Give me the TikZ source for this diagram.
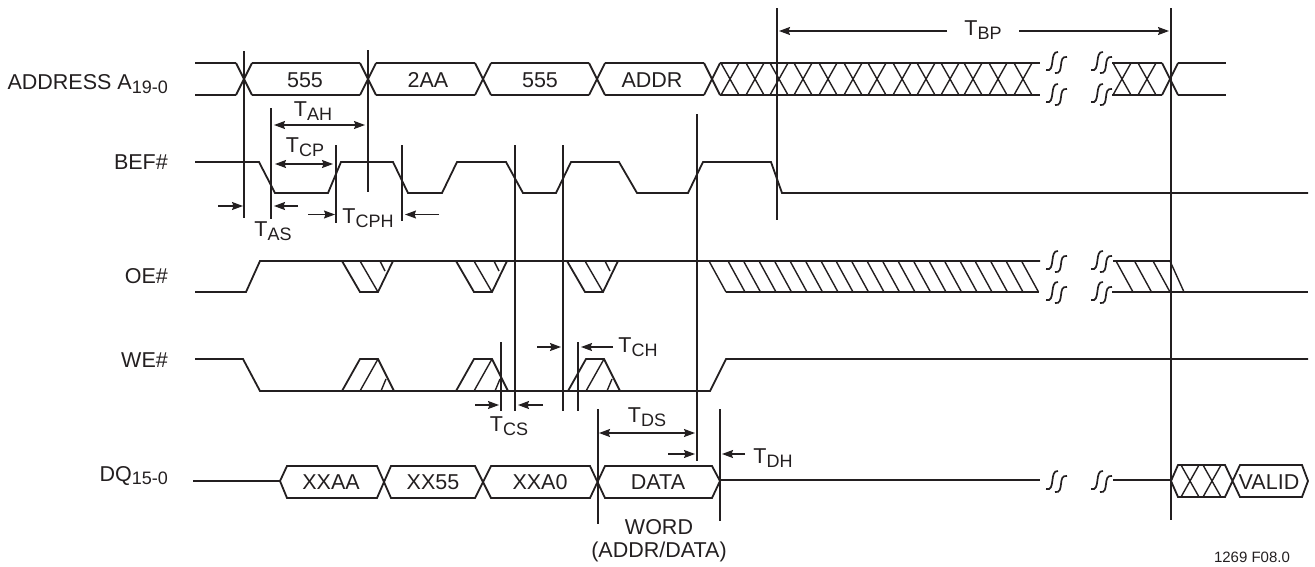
\documentclass[tikz,border=0pt]{standalone}
\usepackage{fontspec}
\setmainfont{Liberation Sans}
\usetikzlibrary{arrows.meta}
\definecolor{ink}{HTML}{231F20}
\newcommand{\lowtxt}[1]{\raisebox{-3.5pt}{\fontsize{18}{18}\selectfont #1}}
\tikzset{
    sig/.style = {ink, line width = 1.8},
    hatch/.style = {ink, line width = 1.4},
    mark line/.style = {ink, line width = 1.6},
    dim/.style = {ink, line width = 1.3, -{Stealth[length = 11, width = 8, inset = 1.5]}},
    dimboth/.style = {ink, line width = 1.3, {Stealth[length = 11, width = 8, inset = 1.5]}-{Stealth[length = 11, width = 8, inset = 1.5]}},
    lbl/.style = {ink, font = \fontsize{21.5}{24}\selectfont, inner sep = 0},
    brk/.pic = {
        \draw [ink, line width = 1.7] (-11, 8) .. controls (-1, 11) and (-8, -11) .. (1, -10);
        \draw [ink, line width = 1.7] (-2, 11) .. controls (8, 13) and (0, -7) .. (10, -5);
    }
}

\begin{document}
\begin{tikzpicture}[x = 1pt, y = -1pt]
    \useasboundingbox (0, 0) rectangle (1315, 566);

    \foreach \a/\b in {195/236, 252/360, 376/475, 491/589, 605/704, 720/1040, 1112/1162, 1178/1226} {
        \draw [sig] (\a, 63) -- (\b, 63);
        \draw [sig] (\a, 95) -- (\b, 95);
    }
    \foreach \x in {244, 368, 483, 597, 712} {
        \draw [sig] (\x - 8, 63) -- (\x + 8, 95);
        \draw [sig] (\x - 8, 95) -- (\x + 8, 63);
    }
    \foreach \x in {730, 755, 779, 803, 828, 853, 877, 902, 926, 950, 973, 998, 1023, 1122, 1147} {
        \draw [hatch] (\x - 9, 63) -- (\x + 9, 95);
        \draw [hatch] (\x - 9, 95) -- (\x + 9, 63);
    }
    \draw [sig] (1162, 63) -- (1178, 95);
    \draw [sig] (1162, 95) -- (1178, 63);

    \draw [sig] (195, 162) -- (259, 162) -- (275, 193) -- (328, 193) -- (341, 162) -- (393, 162)
        -- (408, 193) -- (442, 193) -- (457, 162) -- (506, 162) -- (523, 193) -- (556, 193)
        -- (571, 162) -- (619, 162) -- (637, 193) -- (688, 193) -- (703, 162) -- (771, 162)
        -- (782, 193) -- (1308, 193);

    \draw [sig] (195, 292) -- (246, 292) -- (260, 261) -- (1040, 261);
    \draw [sig] (726, 292) -- (1039, 292);
    \draw [sig] (1113, 261) -- (1170, 261);
    \draw [sig] (1112, 292) -- (1308, 292);
    \foreach \a in {342, 456, 567} {
        \draw [sig] (\a, 261) -- (\a + 18, 292) -- (\a + 36, 292) -- (\a + 51, 261);
        \draw [hatch] (\a + 18, 261) -- (\a + 36, 292);
        \draw [hatch] (\a + 38, 261) -- (\a + 43, 271);
    }
    \foreach \a in {709, 728, 743.5, 759, 774.5, 790, 805.5, 821, 836, 851.5, 867, 882.5, 898, 913.5, 929, 944.5, 960, 975, 990.5, 1006, 1021.5, 1116, 1134.5, 1153} {
        \draw [hatch] (\a, 261) -- (\a + 17, 292);
    }
    \draw [hatch] (1170, 261) -- (1184, 292);

    \draw [sig] (195, 359) -- (243, 359) -- (260, 391) -- (710, 391) -- (726, 359) -- (1308, 359);
    \foreach \a in {342, 456, 568} {
        \draw [sig] (\a, 391) -- (\a + 18, 359) -- (\a + 36, 359) -- (\a + 52, 391);
        \draw [hatch] (\a + 18, 391) -- (\a + 36, 359);
        \draw [hatch] (\a + 39, 391) -- (\a + 44, 379);
    }

    \draw [sig] (193, 481) -- (280, 481) -- (287, 466) -- (377, 466) -- (391, 498) -- (475, 498)
        -- (491, 466) -- (590, 466) -- (605, 498) -- (712, 498) -- (720, 481) -- (712, 466)
        -- (605, 466) -- (590, 498) -- (491, 498) -- (475, 466) -- (391, 466) -- (377, 498)
        -- (287, 498) -- (280, 481);
    \draw [sig] (720, 480) -- (1040, 480);
    \draw [sig] (1113, 480) -- (1171, 480);
    \draw [sig] (1171, 481) -- (1178, 465) -- (1225, 465) -- (1240, 497) -- (1302, 497) -- (1308, 481)
        -- (1302, 465) -- (1240, 465) -- (1225, 497) -- (1178, 497) -- cycle;
    \foreach \x in {1190, 1212} {
        \draw [hatch] (\x - 9, 465) -- (\x + 9, 497);
        \draw [hatch] (\x - 9, 497) -- (\x + 9, 465);
    }

    \foreach \x in {1057, 1102} {
        \foreach \y in {62, 94, 261, 292} {
            \pic at (\x, \y) {brk};
        }
        \pic at (\x, 481) {brk};
    }

    \draw [mark line] (244, 51) -- (244, 218);
    \draw [mark line] (271, 108) -- (271, 219);
    \draw [mark line] (336, 145) -- (336, 223);
    \draw [mark line] (368, 50) -- (368, 192);
    \draw [mark line] (402, 145) -- (402, 221);
    \draw [mark line] (515, 145) -- (515, 411);
    \draw [mark line] (563, 145) -- (563, 411);
    \draw [mark line] (697, 114) -- (697, 461);
    \draw [mark line] (777, 8) -- (777, 220);
    \draw [mark line] (1171, 8) -- (1171, 520);
    \draw [mark line] (501, 342) -- (501, 411);
    \draw [mark line] (578, 342) -- (578, 411);
    \draw [mark line] (598, 409) -- (598, 524);
    \draw [mark line] (720, 409) -- (720, 521);

    \draw [dimboth] (274, 125) -- (365, 125);
    \draw [dimboth] (275, 164) -- (333, 164);
    \draw [dim] (218, 206) -- (243, 206);
    \draw [dim] (298, 206) -- (274, 206);
    \draw [dim] (308, 214.5) -- (335, 214.5);
    \draw [dim] (439, 214.5) -- (405, 214.5);
    \draw [dim] (947, 31) -- (779, 31);
    \draw [dim] (1019, 31) -- (1169, 31);
    \draw [dim] (475, 405) -- (499, 405);
    \draw [dim] (543, 405) -- (518, 405);
    \draw [dim] (537, 347) -- (561, 347);
    \draw [dim] (613, 347) -- (581, 347);
    \draw [dimboth] (599, 433) -- (695, 433);
    \draw [dim] (668, 454) -- (695, 454);
    \draw [dim] (745, 454) -- (722, 454);

    \node [lbl] (tah) at (313, 111) {T\lowtxt{AH}};
    \node [lbl] (tcp) at (305, 147) {T\lowtxt{CP}};
    \node [lbl] (tas) at (273, 231) {T\lowtxt{AS}};
    \node [lbl] (tcph) at (368, 218) {T\lowtxt{CPH}};
    \node [lbl] (tbp) at (983, 30) {T\lowtxt{BP}};
    \node [lbl] (tcs) at (509, 426) {T\lowtxt{CS}};
    \node [lbl] (tch) at (638, 347) {T\lowtxt{CH}};
    \node [lbl] (tds) at (647, 417) {T\lowtxt{DS}};
    \node [lbl] (tdh) at (773, 458) {T\lowtxt{DH}};

    \node [lbl] (a1) at (305, 80) {555};
    \node [lbl] (a2) at (428, 80) {2AA};
    \node [lbl] (a3) at (540, 80) {555};
    \node [lbl] (a4) at (652, 80) {ADDR};
    \node [lbl] (d1) at (331, 482.5) {XXAA};
    \node [lbl] (d2) at (433, 482.5) {XX55};
    \node [lbl] (d3) at (540, 482.5) {XXA0};
    \node [lbl] (d4) at (658, 482.5) {DATA};
    \node [lbl] (d5) at (1269, 482.5) {VALID};

    \node [lbl, anchor = east] (addr) at (168, 84) {ADDRESS A\lowtxt{19-0}};
    \node [lbl, anchor = east] (bef) at (168, 162) {BEF\#};
    \node [lbl, anchor = east] (oe) at (168, 276) {OE\#};
    \node [lbl, anchor = east] (we) at (168, 360) {WE\#};
    \node [lbl, anchor = east] (dq) at (168, 476) {DQ\lowtxt{15-0}};

    \node [lbl] (word) at (659, 527) {WORD};
    \node [lbl] (addrdata) at (659, 552) {(ADDR/DATA)};
    \node [lbl, font = \fontsize{15}{16}\selectfont] (figno) at (1252, 557) {1269 F08.0};
\end{tikzpicture}
\end{document}
